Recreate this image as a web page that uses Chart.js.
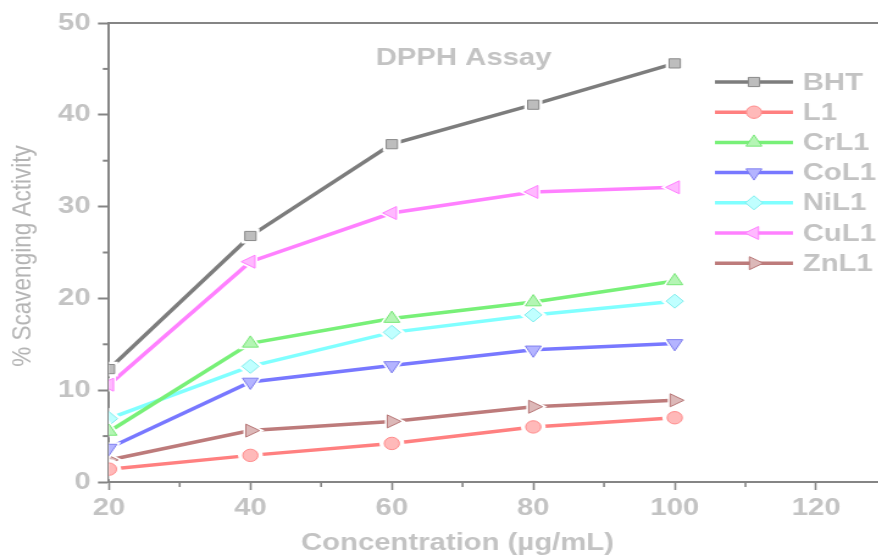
<!DOCTYPE html>
<html>
<head>
<meta charset="utf-8">
<script src="https://cdn.jsdelivr.net/npm/chart.js@4.4.0/dist/chart.umd.min.js"></script>
<style>
  html, body { margin: 0; padding: 0; background: #ffffff; overflow: hidden; }
  #wrap { width: 720px; height: 558px; transform: scaleX(1.22); transform-origin: 0 0; }
  canvas { display: block; }
</style>
</head>
<body>
<div id="wrap"><canvas id="chart" width="720" height="558"></canvas></div>
<script>
// Concentrations tested (µg/mL)
const concentrations = [20, 40, 60, 80, 100];

// % scavenging activity per compound
const bht  = [12.3, 26.8, 36.8, 41.1, 45.6];
const l1   = [1.4, 2.9, 4.2, 6.0, 7.0];
const crL1 = [5.5, 15.1, 17.8, 19.6, 21.9];
const coL1 = [3.7, 10.9, 12.7, 14.4, 15.1];
const niL1 = [6.9, 12.6, 16.3, 18.2, 19.7];
const cuL1 = [10.6, 24.0, 29.3, 31.6, 32.1];
const znL1 = [2.4, 5.6, 6.6, 8.2, 8.9];

const seriesNames = ['BHT', 'L1', 'CrL1', 'CoL1', 'NiL1', 'CuL1', 'ZnL1'];
const seriesValues = [bht, l1, crL1, coL1, niL1, cuL1, znL1];

const xTickValues = [20, 40, 60, 80, 100, 120];
const xMinorValues = [30, 50, 70, 90, 110];
const yMinorValues = [5, 15, 25, 35, 45];

const FONT = '"Liberation Sans", Arial, sans-serif';
const TEXT_GREY = '#c3c3c3';
const AXIS_GREY = '#858585';

const styles = [
  { line: '#7d7d7d', fill: '#bdbdbd', edge: '#8a8a8a', shape: 'rect',     rot: 0,   r: 6.5 },
  { line: '#ff8080', fill: '#ffb9b9', edge: '#ff8c8c', shape: 'circle',   rot: 0,   r: 6.2 },
  { line: '#78f078', fill: '#b4f5b4', edge: '#78e878', shape: 'triangle', rot: 0,   r: 7.5 },
  { line: '#7878ff', fill: '#b4b4ff', edge: '#8080f0', shape: 'triangle', rot: 180, r: 7.5 },
  { line: '#80ffff', fill: '#c0ffff', edge: '#80eeee', shape: 'rectRot',  rot: 0,   r: 7 },
  { line: '#ff80ff', fill: '#ffb9ff', edge: '#ff80ff', shape: 'triangle', rot: -90, r: 7.5 },
  { line: '#bd7b7b', fill: '#dcb8b8', edge: '#b87878', shape: 'triangle', rot: 90,  r: 7.5 }
];

const datasets = seriesNames.map((name, i) => ({
  label: name,
  data: concentrations.map((c, k) => ({ x: c, y: seriesValues[i][k] })),
  borderColor: styles[i].line,
  backgroundColor: styles[i].fill,
  borderWidth: 3.5,
  pointStyle: styles[i].shape,
  rotation: styles[i].rot,
  pointRadius: styles[i].r,
  pointBackgroundColor: styles[i].fill,
  pointBorderColor: styles[i].edge,
  pointBorderWidth: 1,
  tension: 0,
  clip: 0
}));

// Leaves a small white gap in each line around its own markers, then redraws the markers.
const markerGaps = {
  id: 'markerGaps',
  afterDatasetDraw(chart, args) {
    const ctx = chart.ctx;
    const meta = args.meta;
    const st = styles[args.index];
    Chart.helpers.clipArea(ctx, chart.chartArea);
    ctx.save();
    ctx.fillStyle = '#ffffff';
    meta.data.forEach(pt => {
      Chart.helpers.drawPoint(ctx, { pointStyle: st.shape, rotation: st.rot, radius: st.r + 4, borderWidth: 0 }, pt.x, pt.y);
    });
    ctx.restore();
    meta.data.forEach(pt => pt.draw(ctx, chart.chartArea));
    Chart.helpers.unclipArea(ctx);
  }
};

// Frame, minor ticks, titles and the legend block.
const decorations = {
  id: 'decorations',
  afterDraw(chart) {
    const ctx = chart.ctx;
    const a = chart.chartArea;
    const xs = chart.scales.x, ys = chart.scales.y;
    ctx.save();
    ctx.strokeStyle = AXIS_GREY;
    ctx.lineWidth = 2;
    ctx.beginPath();
    ctx.moveTo(a.left, a.top);
    ctx.lineTo(a.right, a.top);
    ctx.stroke();
    ctx.lineWidth = 1.6;
    xMinorValues.forEach(v => {
      const px = xs.getPixelForValue(v);
      ctx.beginPath(); ctx.moveTo(px, a.bottom); ctx.lineTo(px, a.bottom + 5); ctx.stroke();
    });
    ctx.lineWidth = 2;
    yMinorValues.forEach(v => {
      const py = ys.getPixelForValue(v);
      ctx.beginPath(); ctx.moveTo(a.left, py); ctx.lineTo(a.left - 5, py); ctx.stroke();
    });

    ctx.fillStyle = TEXT_GREY;
    ctx.textAlign = 'center';
    ctx.textBaseline = 'middle';
    ctx.font = 'bold 24px ' + FONT;
    ctx.fillText('DPPH Assay', 380, 58);
    ctx.fillText('Concentration (µg/mL)', 375, 543);

    ctx.save();
    ctx.translate(19, 256);
    ctx.rotate(-Math.PI / 2);
    ctx.font = '22.5px ' + FONT;
    ctx.fillStyle = '#b4b4b4';
    ctx.fillText('% Scavenging Activity', 0, 0);
    ctx.restore();

    // legend
    chart.data.datasets.forEach((ds, i) => {
      const y = 82 + i * 30.2;
      ctx.strokeStyle = ds.borderColor;
      ctx.lineWidth = 3.5;
      ctx.beginPath(); ctx.moveTo(586, y); ctx.lineTo(650, y); ctx.stroke();
      ctx.fillStyle = ds.pointBackgroundColor;
      ctx.strokeStyle = ds.pointBorderColor;
      ctx.lineWidth = 1;
      Chart.helpers.drawPoint(ctx, { pointStyle: ds.pointStyle, rotation: ds.rotation, radius: ds.pointRadius, borderWidth: 1 }, 618, y);
      ctx.fillStyle = TEXT_GREY;
      ctx.textAlign = 'left';
      ctx.font = 'bold 24px ' + FONT;
      ctx.fillText(ds.label, 658, y + 1);
    });
    ctx.restore();
  }
};

new Chart(document.getElementById('chart'), {
  type: 'line',
  data: { datasets },
  plugins: [markerGaps, decorations],
  options: {
    responsive: false,
    devicePixelRatio: 1,
    animation: false,
    layout: { autoPadding: false, padding: { top: 23, right: 0, left: 0, bottom: 0 } },
    plugins: { legend: { display: false }, tooltip: { enabled: false } },
    scales: {
      x: {
        type: 'linear',
        min: 20,
        max: 128.8,
        z: 1,
        afterBuildTicks: s => { s.ticks = xTickValues.map(v => ({ value: v })); },
        afterFit: s => { s.height = 76; s.paddingRight = 0; s.paddingLeft = 0; },
        grid: { display: true, drawOnChartArea: false, drawTicks: true, tickLength: 8, tickColor: AXIS_GREY, tickWidth: 1.6 },
        border: { display: true, color: AXIS_GREY, width: 2 },
        ticks: { color: TEXT_GREY, font: { family: FONT, size: 24, weight: 'bold' }, padding: 4, maxRotation: 0, autoSkip: false }
      },
      y: {
        type: 'linear',
        min: 0,
        max: 50,
        z: 1,
        ticks: { stepSize: 10, color: TEXT_GREY, font: { family: FONT, size: 24, weight: 'bold' }, padding: 6 },
        afterFit: s => { s.width = 89.3; s.paddingTop = 0; s.paddingBottom = 0; },
        grid: { display: true, drawOnChartArea: false, drawTicks: true, tickLength: 9, tickColor: AXIS_GREY, tickWidth: 2 },
        border: { display: true, color: AXIS_GREY, width: 2 }
      }
    }
  }
});
</script>
</body>
</html>
